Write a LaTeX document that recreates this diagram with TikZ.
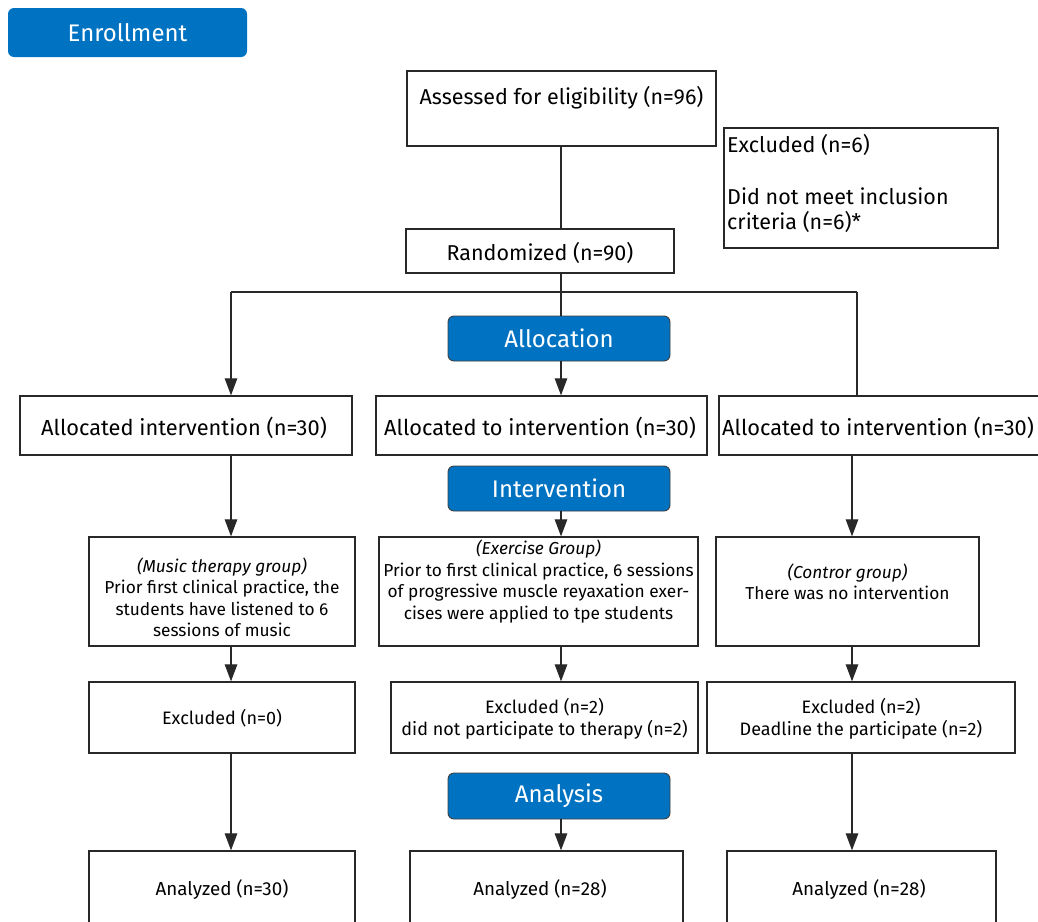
\documentclass[tikz,border=0pt]{standalone}
\usepackage{fontspec}
\setmainfont{Fira Sans}
\usetikzlibrary{arrows.meta}
\definecolor{hdrblue}{RGB}{0,114,194}
\definecolor{linegray}{RGB}{40,40,40}
\tikzset{
  box/.style={draw=linegray, line width=1.3pt, fill=white, rectangle, inner sep=0pt, align=center},
  hdr/.style={draw=black!75, line width=0.9pt, fill=hdrblue, rounded corners=6pt, text=white, inner sep=0pt,
     font=\fontsize{24}{28}\selectfont},
  txt/.style={inner sep=0pt, align=center, font=\fontsize{21.5}{25}\selectfont},
  ctxt/.style={inner sep=0pt, align=center, font=\fontsize{21.8}{25}\selectfont},
  gtxt/.style={inner sep=0pt, align=center, font=\fontsize{17.3}{21.5}\selectfont},
  stxt/.style={inner sep=0pt, align=center, font=\fontsize{18}{22}\selectfont},
  atxt/.style={inner sep=0pt, align=center, font=\fontsize{18.8}{22}\selectfont},
  conn/.style={draw=linegray, line width=1.2pt},
  arr/.style={conn, -{Triangle[length=17pt,width=12.5pt]}}
}
\begin{document}
\begin{tikzpicture}[x=1pt,y=-1pt]
\clip (0,0) rectangle (1038,921);
\fill[white] (0,0) rectangle (1038,921);
% header
\node[hdr, minimum width=239pt, minimum height=49pt, draw=none] (enroll) at (127.5,32.5) {Enrollment};
% top boxes
\node[box, minimum width=309pt, minimum height=75pt] (assess) at (561.5,108.5) {};
\node[txt] (assesst) at (561.5,98) {Assessed for eligibility (n=96)};
\node[box, minimum width=274pt, minimum height=120pt] (excl6) at (861,188) {};
\node[txt, anchor=north west, align=left, font=\fontsize{21.5}{25}\selectfont] (excl6t) at (727,134) {Excluded (n=6)\\[27pt]Did not meet inclusion\\criteria (n=6)*};
\node[box, minimum width=268pt, minimum height=44pt] (rand) at (540,251) {};
\node[txt] (randt) at (540,253) {Randomized (n=90)};
% coordinates for vertical lines
\coordinate (xl) at (231,0);
\coordinate (xm) at (561,0);
\coordinate (xr) at (857,0);
\coordinate (xr2) at (852,0);
\coordinate (bl) at (231,292);
\coordinate (br) at (857,292);
\node[hdr, minimum width=222pt, minimum height=45pt] (alloc) at (559,338.5) {Allocation};
\node[box, minimum width=332pt, minimum height=59pt] (a1) at (186,425.5) {};
\node[ctxt] (a1t) at (184,428) {Allocated intervention (n=30)};
\node[box, minimum width=331pt, minimum height=59pt] (a2) at (541.5,425.5) {};
\node[ctxt] (a2t) at (540,428) {Allocated to intervention (n=30)};
\node[box, minimum width=330pt, minimum height=59pt] (a3) at (884,425.5) {};
\node[ctxt] (a3t) at (878,428) {Allocated to intervention (n=30)};
\node[hdr, minimum width=222pt, minimum height=45pt] (interv) at (559,488.5) {Intervention};
% group boxes
\node[box, minimum width=266pt, minimum height=109pt] (music) at (222,591.5) {};
\node[gtxt] (musict) at (222,597.5) {\textit{(Music therapy group)}\\Prior first clinical practice, the\\students have listened to 6\\sessions of music};
\node[box, minimum width=319pt, minimum height=109pt] (exer) at (538.5,591.5) {};
\node[gtxt] (exert) at (538.5,581.5) {\textit{(Exercise Group)}\\Prior to first clinical practice, 6 sessions\\of progressive muscle reyaxation exer-\\cises were applied to tpe students};
\node[box, minimum width=263pt, minimum height=109pt] (ctrl) at (847.5,591.5) {};
\node[gtxt] (ctrlt) at (847.5,582) {\textit{(Contror group)}\\There was no intervention};
% excluded boxes
\node[box, minimum width=266pt, minimum height=71pt] (ex0) at (222,717.5) {};
\node[stxt] (ex0t) at (222,718) {Excluded (n=0)};
\node[box, minimum width=307pt, minimum height=71pt] (ex2) at (544.5,717.5) {};
\node[stxt] (ex2t) at (544.5,719) {Excluded (n=2)\\did not participate to therapy (n=2)};
\node[box, minimum width=308pt, minimum height=71pt] (ex3) at (861,717.5) {};
\node[stxt] (ex3t) at (861,719) {Excluded (n=2)\\Deadline the participate (n=2)};
\node[hdr, minimum width=222pt, minimum height=46pt] (anal) at (559,796) {Analysis};
% analyzed
\node[box, minimum width=266pt, minimum height=84pt] (an1) at (222,893) {};
\node[atxt] (an1t) at (222,890) {Analyzed (n=30)};
\node[box, minimum width=273pt, minimum height=84pt] (an2) at (546.5,893) {};
\node[atxt] (an2t) at (540,890) {Analyzed (n=28)};
\node[box, minimum width=269pt, minimum height=84pt] (an3) at (861.5,893) {};
\node[atxt] (an3t) at (859,890) {Analyzed (n=28)};
% connectors
\draw[conn] (xm |- assess.south) -- (xm |- rand.north);
\draw[conn] (xm |- rand.south) -- (xm |- alloc.north);
\draw[conn] (bl) -- (br);
\draw[arr] (bl) -- (xl |- a1.north);
\draw[conn] (br) -- (xr |- a3.north);
\draw[arr] (xm |- alloc.south) -- (xm |- a2.north);
\draw[arr] (xl |- a1.south) -- (xl |- music.north);
\draw[arr] (xm |- interv.south) -- (xm |- exer.north);
\draw[arr] (xr2 |- a3.south) -- (xr2 |- ctrl.north);
\draw[arr] (xl |- music.south) -- (xl |- ex0.north);
\draw[arr] (xm |- exer.south) -- (xm |- ex2.north);
\draw[arr] (xr2 |- ctrl.south) -- (xr2 |- ex3.north);
\draw[arr] (xl |- ex0.south) -- (xl |- an1.north);
\draw[arr] (xm |- anal.south) -- (xm |- an2.north);
\draw[arr] (xr2 |- ex3.south) -- (xr2 |- an3.north);
\end{tikzpicture}
\end{document}
